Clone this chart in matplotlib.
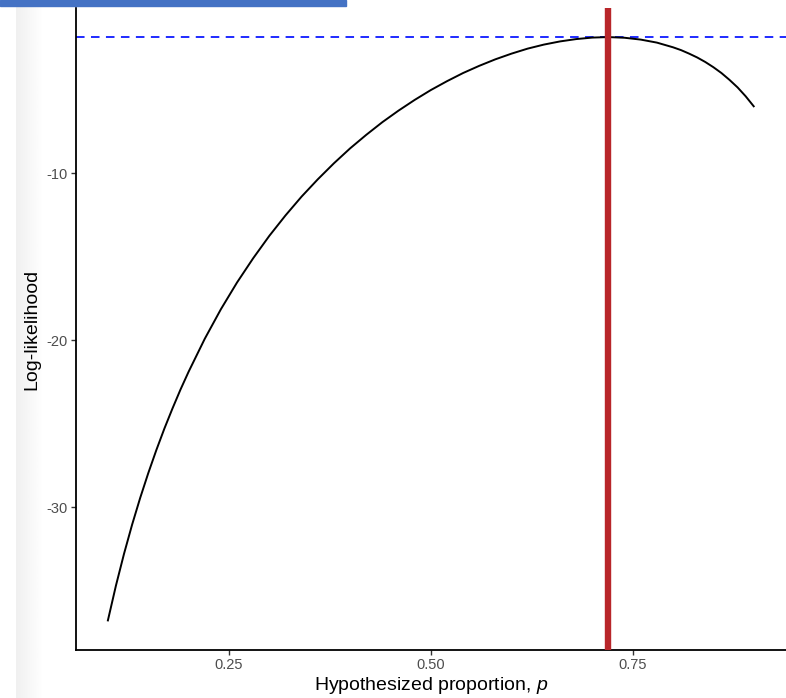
import matplotlib
matplotlib.use("Agg")
import matplotlib.pyplot as plt
from matplotlib.patches import Rectangle
import numpy as np

plt.rcParams['font.family'] = ['Liberation Sans', 'DejaVu Sans']
plt.rcParams['mathtext.fontset'] = 'custom'
plt.rcParams['mathtext.it'] = 'Liberation Sans:italic'
plt.rcParams['axes.unicode_minus'] = False

# hypothesized proportions and the log-likelihood
p_values = [0.10, 0.11, 0.12, 0.13, 0.14, 0.15, 0.16, 0.17, 0.18, 0.19,
            0.20, 0.22, 0.24, 0.26, 0.28, 0.30, 0.32, 0.34, 0.36, 0.38,
            0.40, 0.42, 0.44, 0.46, 0.48, 0.50, 0.52, 0.54, 0.56, 0.58,
            0.60, 0.62, 0.64, 0.66, 0.68, 0.70, 0.72, 0.74, 0.76, 0.78,
            0.80, 0.81, 0.82, 0.83, 0.84, 0.85, 0.86, 0.87, 0.88, 0.89,
            0.90]
log_lik = [-36.76, -34.67, -32.77, -31.03, -29.43, -27.95, -26.57, -25.28,
           -24.08, -22.94, -21.88, -19.91, -18.14, -16.54, -15.09, -13.75,
           -12.53, -11.40, -10.37, -9.41, -8.52, -7.71, -6.95, -6.26,
           -5.62, -5.03, -4.50, -4.01, -3.58, -3.19, -2.85, -2.55, -2.31,
           -2.12, -1.98, -1.89, -1.86, -1.90, -2.01, -2.19, -2.47, -2.64,
           -2.85, -3.08, -3.35, -3.66, -4.01, -4.42, -4.87, -5.40, -6.00]

p_hat = 0.719        # maximum likelihood estimate (red line)
max_log_lik = -1.86  # dashed line

y_ticks = [-10, -20, -30]
x_ticks = [0.25, 0.50, 0.75]
x_tick_labels = ['0.25', '0.50', '0.75']

fig = plt.figure(figsize=(7.86, 6.98), dpi=100)

# screenshot leftovers: blue header bar and grey shading at the left
fig.patches.append(Rectangle((0, 1 - 6 / 698), 346 / 786, 6 / 698,
                             transform=fig.transFigure, color='#4472c4',
                             zorder=0))
shade = fig.add_axes([16 / 786, 0, 28 / 786, 1], zorder=-1)
grad = np.linspace(0.94, 1.0, 50).reshape(1, -1)
shade.imshow(grad, cmap='gray', vmin=0, vmax=1, aspect='auto')
shade.axis('off')

ax = fig.add_axes([75.6 / 786, 1 - 650 / 698, 1 - 75.6 / 786, (650 - 8) / 698])
ax.patch.set_alpha(0)

ax.plot(p_values, log_lik, color='black', lw=1.4, zorder=3)
ax.axhline(max_log_lik, color='#1f2bff', lw=1.4, dashes=(4.4, 3.3), zorder=2)
ax.axvline(p_hat, color='#b8262a', lw=4.6, zorder=4)

ax.set_xlim(0.06, 0.94)
ax.set_ylim(-38.53, -0.12)
ax.set_xticks(x_ticks)
ax.set_xticklabels(x_tick_labels)
ax.set_yticks(y_ticks)

for side in ['top', 'right']:
    ax.spines[side].set_visible(False)
for side in ['left', 'bottom']:
    ax.spines[side].set_linewidth(1.3)
ax.tick_params(direction='out', length=3.5, width=1.0, color='#333333',
               labelcolor='#4d4d4d', labelsize=10.5, pad=2.5)

ax.set_xlabel(r'Hypothesized proportion, $\mathit{p}$', fontsize=14, labelpad=2)
ax.set_ylabel('Log-likelihood', fontsize=14, labelpad=4)

fig.savefig('out.png', dpi=100)
